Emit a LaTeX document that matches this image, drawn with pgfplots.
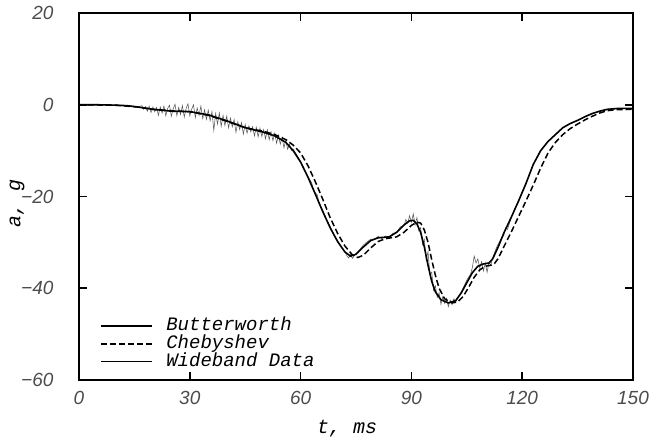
\documentclass[border=0pt]{standalone}
\usepackage{fontspec}
\setmainfont{Liberation Mono}
\newfontfamily\ticksf{Liberation Sans}
\usepackage{pgfplots}
\pgfplotsset{compat=1.18}
\begin{document}
\begin{tikzpicture}
\begin{axis}[name=ax, scale only axis, width=554pt, height=367pt,
 xmin=0,xmax=150,ymin=-60,ymax=20,
 xtick={0,30,60,90,120,150}, ytick={-60,-40,-20,0,20},
 xticklabels={0,30,60,90,120,150},
 yticklabels={−60,−40,−20,0,20},
 tick align=inside, tick pos=both, major tick length=8pt,
 every tick/.style={black, line width=1.6pt},
 axis line style={line width=1.2pt},
 tick label style={font=\ticksf\itshape\fontsize{19}{19}\selectfont, color=black!70},
 xticklabel style={yshift=-8pt}, yticklabel style={xshift=-22pt},
 xlabel={t, ms}, ylabel={a, g},
 label style={font=\itshape\fontsize{20}{20}\selectfont},
 xlabel style={at={(axis description cs:0.484,0)}, anchor=center, yshift=-49pt},
 ylabel style={at={(axis description cs:-0.112,0.48)}, anchor=center},
 legend style={at={(axis description cs:0,0)}, anchor=south west, xshift=21pt, yshift=9pt,
   draw=none, fill=none, inner sep=0pt, row sep=0pt,
   font=\itshape\fontsize{19}{19}\selectfont,
   nodes={text height=12pt, text depth=3pt, inner sep=1.5pt},
   /tikz/every odd column/.append style={column sep=12pt}},
 legend cell align=left,
 legend image code/.code={\draw[#1] (0pt,0pt) -- (51pt,0pt);},
]
\addplot[forget plot, black!65, line width=0.55pt] coordinates {
(0,0) (4,0) (8,-0.05) (12,-0.15) (15,-0.35) (16,-0.45) (17,-0.2) (17.5,-1.0) (18,-0.4) (18.5,-1.4)
(19,-0.3) (19.5,-1.7) (20,-0.5) (20.5,-1.5) (21,-0.6) (21.5,-2.3) (22,-0.5) (22.5,-1.8) (23,-0.3)
(23.5,-2.4) (24,-0.8) (24.5,-0.1) (25,-2.5) (25.5,-0.9) (26,0.1) (26.5,-2.4) (27,-0.6) (27.5,-2.1)
(28,-0.2) (28.5,-2.7) (29,-0.8) (29.5,0.2) (30,-2.4) (30.5,-1.0) (31,0.0) (31.5,-2.8) (32,-0.7)
(32.5,-2.3) (33,-0.3) (33.5,-3.0) (34,-1.1) (34.5,-3.2) (35,-1.2) (35.5,-3.5) (36,-1.5) (36.5,-5.6)
(37,-1.9) (37.5,-4.2) (38,-1.8) (38.5,-4.7) (39,-2.3) (39.5,-4.5) (40,-2.5) (40.5,-5.0) (41,-2.9)
(41.5,-4.8) (42,-3.2) (42.5,-6.0) (43,-3.7) (43.5,-5.4) (44,-3.9) (44.5,-6.4) (45,-4.3) (45.5,-6.2)
(46,-4.6) (46.5,-5.9) (47,-4.8) (47.5,-6.8) (48,-4.9) (48.5,-7.0) (49,-5.1) (49.5,-6.9) (50,-5.4)
(50.5,-7.4) (51,-5.5) (51.5,-7.6) (52,-5.9) (52.5,-7.8) (53,-6.2) (53.5,-8.4) (54,-6.6) (54.5,-8.6)
(55,-7.1) (55.5,-9.4) (56,-7.7) (56.5,-9.7) (57,-8.6) (57.5,-10.0) (58,-9.7) (59,-11.0) (60,-12.4)
(61,-14.0) (62,-15.8) (63,-17.0) (63.5,-18.6) (64,-19.2) (64.5,-19.6) (65,-21.5) (66,-23.0) (67,-25.0)
(68,-26.5) (69,-28.4) (70,-29.6) (71,-31.0) (72,-32.0) (72.5,-32.9) (73,-33.4) (73.5,-32.6) (74,-33.5)
(75,-32.4) (76,-31.6) (77,-30.6) (78,-29.9) (79,-29.3) (80,-29.4) (81,-28.7) (82,-29.2) (83,-28.6)
(84,-29.0) (85,-28.0) (86,-27.9) (87,-26.6) (88,-26.4) (88.5,-25.0) (89,-25.8) (89.5,-24.2) (90,-25.6)
(90.5,-23.8) (91,-26.2) (91.5,-24.6) (92,-27.5) (92.5,-26.8) (93,-30.5) (93.5,-29.4) (94,-33.8)
(94.5,-32.0) (95,-37.0) (95.5,-36.5) (96,-40.5) (96.5,-39.5) (97,-42.0) (97.5,-41.0) (98,-43.5)
(98.5,-41.8) (99,-43.3) (99.5,-42.2) (100,-44.0) (100.5,-42.6) (101,-43.6) (101.5,-42.3) (102,-43.0)
(102.5,-42.0) (103,-41.6) (104,-40.0) (105,-38.2) (106,-37.0) (106.5,-35.5) (107,-33.0) (107.5,-34.5)
(108,-33.6) (108.5,-35.6) (109,-34.2) (109.5,-36.2) (110,-34.5) (110.5,-36.5) (111,-34.3) (111.5,-35.0)
(112,-33.4) (113,-31.2) (114,-29.6) (115,-28.5) (115.5,-26.8) (116,-27.2) (117,-24.7) (118,-22.6)
(119,-21.1) (120,-19.0) (121,-17.3) (122,-15.0) (123,-13.0) (125,-10.0) (127,-8.0) (129,-6.5)
(131,-5.0) (133,-4.1) (135,-3.4) (137,-2.6) (139,-1.9) (141,-1.4) (143,-1.0) (146,-0.8) (150,-0.8)
};
\addplot[black, line width=1.6pt] coordinates {
(0,0) (5,0) (10,-0.1) (13,-0.2) (16,-0.5) (20,-1.0) (25,-1.4) (30,-1.5) (35,-2.2) (40,-3.5)
(45,-5.0) (50,-6.0) (53,-6.8) (56,-8.2) (58,-10.0) (60,-12.5) (62,-15.8) (64,-19.5) (66,-23.3)
(68,-26.8) (70,-29.8) (72,-32.1) (73.5,-33.0) (75,-32.6) (77,-31.0) (79,-29.6) (81,-29.0) (84,-28.8)
(86,-27.8) (88,-26.2) (89.5,-25.3) (90.5,-25.2) (91.5,-26.0) (92.5,-27.8) (93.5,-31.0) (94.5,-35.0)
(95.5,-38.5) (96.5,-40.8) (98,-42.5) (100,-43.2) (102,-42.7) (103.5,-41.0) (105,-38.8) (106.5,-36.6)
(108,-35.2) (109.5,-34.7) (111,-34.5) (112,-33.6) (113.5,-31.0) (115,-28.0) (117,-24.6) (119,-21.0)
(121,-17.2) (123,-13.0) (125,-10.0) (127,-8.0) (129,-6.5) (131,-5.0) (133,-4.1) (135,-3.4) (137,-2.6)
(139,-1.9) (141,-1.4) (143,-1.0) (146,-0.8) (150,-0.8)
};
\addlegendentry{Butterworth}
\addplot[black, line width=1.5pt, dash pattern=on 6pt off 3pt] coordinates {
(0,0) (10,-0.1) (16,-0.5) (20,-1.0) (25,-1.3) (30,-1.5) (35,-2.3) (40,-3.6) (45,-5.0) (50,-5.8)
(53,-6.5) (56,-7.6) (58,-8.8) (60,-10.5) (62,-13.3) (64,-16.8) (66,-20.6) (68,-24.6) (70,-28.0)
(72,-30.8) (74,-32.7) (75.5,-33.3) (77,-32.8) (79,-31.2) (81,-29.8) (83,-29.2) (86,-28.8) (88,-27.8)
(90,-26.3) (91.5,-25.6) (92.5,-25.8) (93.5,-27.3) (94.5,-30.0) (95.5,-33.8) (96.5,-37.2) (97.5,-40.0)
(99,-42.3) (101,-43.2) (102.5,-43.0) (104,-41.8) (105.5,-39.8) (107,-37.6) (108.5,-36.0) (110,-35.2)
(111.5,-35.0) (112.5,-34.6) (113.5,-33.5) (115,-31.0) (117,-27.8) (119,-24.4) (121,-21.0) (123,-17.5)
(125,-13.8) (127,-10.5) (129,-8.2) (131,-6.5) (133,-5.2) (135,-4.2) (137,-3.3) (139,-2.5) (141,-1.8)
(143,-1.3) (145,-1.1) (150,-1.0)
};
\addlegendentry{Chebyshev}
\addlegendimage{black, line width=0.6pt}
\addlegendentry{Wideband Data}
\end{axis}
\pgfresetboundingbox
\path[use as bounding box] ([shift={(-79pt,-58pt)}]ax.south west) rectangle ([shift={(16pt,13pt)}]ax.north east);
\end{tikzpicture}
\end{document}
